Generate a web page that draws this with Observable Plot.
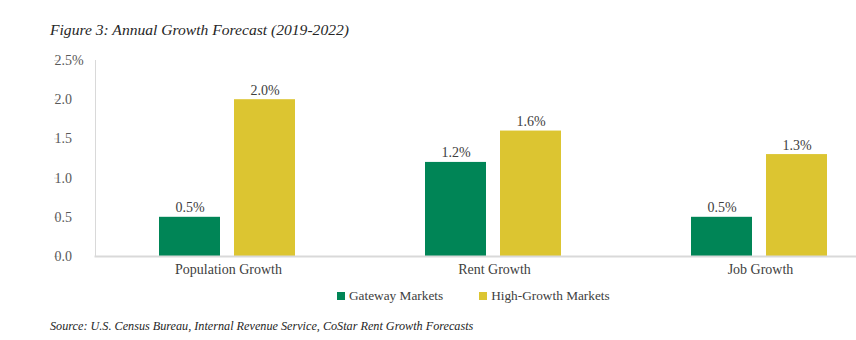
<!DOCTYPE html>
<html><head><meta charset="utf-8">
<script src="https://cdn.jsdelivr.net/npm/d3@7"></script>
<script src="https://cdn.jsdelivr.net/npm/@observablehq/plot@0.6"></script>
<style>
body{margin:0;background:#fff;width:856px;height:340px;position:relative;overflow:hidden;font-family:"Liberation Serif",serif;color:#404040}
#title{position:absolute;left:50px;top:21px;font-style:italic;font-size:15.6px;color:#262626;white-space:nowrap}
#chart{position:absolute;left:0;top:48px}
#legend{position:absolute;left:337px;top:288px;font-size:13.3px;display:flex;align-items:center;white-space:nowrap}
#legend .item{display:flex;align-items:center;margin-right:36px}
#legend .sw{display:inline-block;width:8px;height:8px;margin-right:4px}
#source{position:absolute;left:50px;top:319px;font-style:italic;font-size:12.2px;color:#262626;white-space:nowrap}
</style></head><body>
<div id="title">Figure 3: Annual Growth Forecast (2019-2022)</div>
<div id="chart"></div>
<div id="legend"></div>
<div id="source">Source: U.S. Census Bureau, Internal Revenue Service, CoStar Rent Growth Forecasts</div>
<script>
const categories = ["Population Growth", "Rent Growth", "Job Growth"];
const seriesNames = ["Gateway Markets", "High-Growth Markets"];
const gateway = [0.5, 1.2, 0.5];
const highGrowth = [2.0, 1.6, 1.3];
const colors = ["#008556", "#dcc531"];
const yTicks = [0, 0.5, 1.0, 1.5, 2.0, 2.5];

const data = categories.flatMap((c, i) => [
  {category: c, series: seriesNames[0], value: gateway[i]},
  {category: c, series: seriesNames[1], value: highGrowth[i]}
]);

const chart = Plot.plot({
  width: 856, height: 235,
  marginLeft: 95, marginRight: 9, marginTop: 12, marginBottom: 27,
  style: {fontFamily: "Liberation Serif", fontSize: "14px", color: "#404040", background: "transparent"},
  fx: {domain: categories, range: [95, 893], padding: 0, label: null},
  x: {domain: seriesNames, range: [159, 295], paddingInner: 0.187, paddingOuter: 0, axis: null},
  y: {domain: [0, 2.5], axis: null},
  color: {domain: seriesNames, range: colors},
  marks: [
    Plot.frame({anchor: "left", stroke: "#d9d9d9", facet: "super"}),
    Plot.axisY({ticks: yTicks, tickSize: 5, tickPadding: 0, stroke: "#d9d9d9", textAnchor: "start", dx: -36,
      fontSize: 14, fill: "#595959", label: null,
      tickFormat: d => d === 2.5 ? "2.5%" : d.toFixed(1)}),
    Plot.barY(data, {fx: "category", x: "series", y: "value", fill: "series"}),
    Plot.frame({anchor: "bottom", stroke: "#d9d9d9", strokeWidth: 2, facet: "super"}),
    Plot.text(data, {fx: "category", x: "series", y: "value", text: d => d.value.toFixed(1) + "%",
      lineAnchor: "bottom", dy: -5, fontSize: 14, fill: "#404040"}),
    Plot.axisFx({anchor: "bottom", tickSize: 0, tickPadding: 8, fontSize: 14, fill: "#404040", label: null})
  ]
});
document.getElementById("chart").appendChild(chart);

const legend = document.getElementById("legend");
seriesNames.forEach((s, i) => {
  const item = document.createElement("span");
  item.className = "item";
  const sw = document.createElement("span");
  sw.className = "sw";
  sw.style.background = colors[i];
  item.appendChild(sw);
  item.appendChild(document.createTextNode(s));
  legend.appendChild(item);
});
</script>
</body></html>
